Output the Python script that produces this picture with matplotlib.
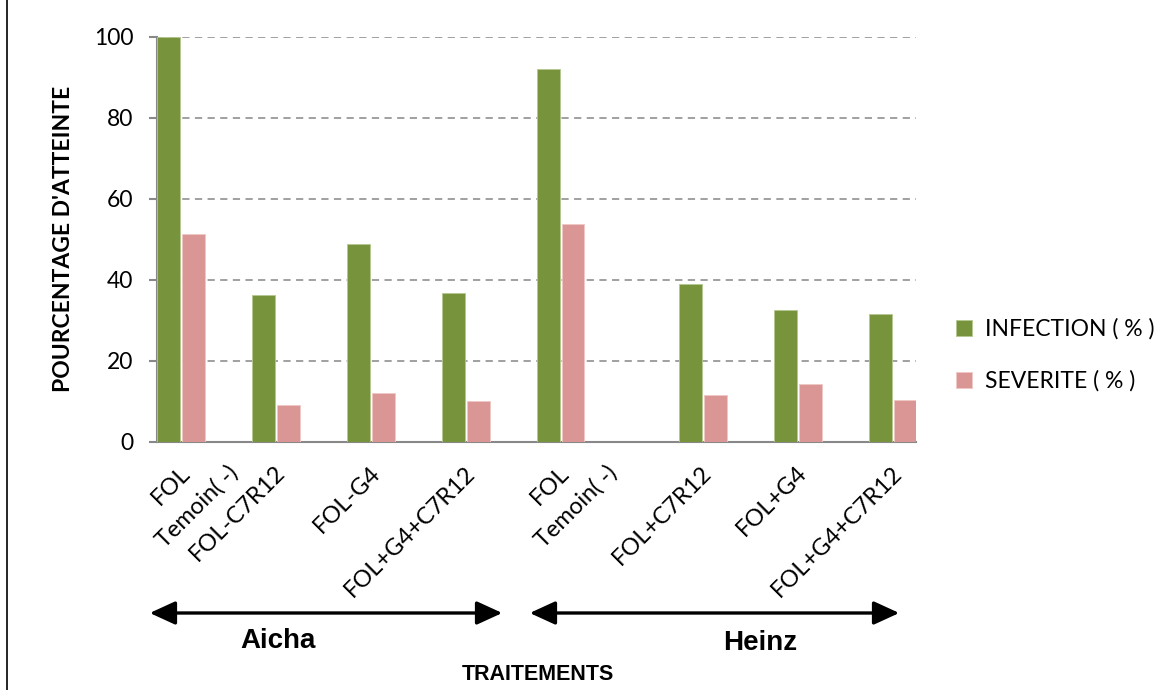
import matplotlib
matplotlib.use("Agg")
import matplotlib.pyplot as plt
import matplotlib.transforms as mtransforms
from matplotlib.lines import Line2D

# ---- data ----
categories = ["FOL", "Temoin( -)", "FOL-C7R12", "FOL-G4", "FOL+G4+C7R12",
              "FOL", "Temoin( -)", "FOL+C7R12", "FOL+G4", "FOL+G4+C7R12"]
infection = [100.0, 0.0, 36.3, 48.7, 36.6, 92.0, 0.0, 39.0, 32.4, 31.6]
severite = [51.2, 0.0, 9.1, 12.0, 10.1, 53.8, 0.0, 11.5, 14.3, 10.3]
series_names = ["INFECTION ( % )", "SEVERITE ( % )"]
groups = ["Aicha", "Heinz"]
yticks = [0, 20, 40, 60, 80, 100]

# ---- layout (category slot positions) ----
centers = [0.25, 0.75, 1.25, 2.25, 3.25, 4.25, 4.75, 5.75, 6.75, 7.75]

GREEN = "#77933C"
PINK = "#D99694"
FONT = ["Lato", "DejaVu Sans"]

W, H = 1176, 690
fig = plt.figure(figsize=(W / 100, H / 100), dpi=100)
ax = fig.add_axes([157 / W, 1 - 441.7 / H, (916 - 157) / W, (441.7 - 36.7) / H])

bw = 0.24
gx = [c - 0.125 for c in centers]
px = [c + 0.135 for c in centers]
ax.bar(gx, infection, width=bw, color=GREEN, edgecolor="#b5c98f", linewidth=0.6,
       label=series_names[0], zorder=3)
ax.bar(px, severite, width=bw, color=PINK, edgecolor="#f0c8c6", linewidth=0.6,
       label=series_names[1], zorder=3)

ax.set_xlim(0, 8)
ax.set_ylim(0, 100)
ax.set_yticks(yticks)
ax.set_yticklabels([str(v) for v in yticks], fontsize=16.5, family=FONT)
ax.yaxis.grid(True, linestyle=(0, (4, 3)), color="#999999", linewidth=1.3, zorder=0)
ax.set_axisbelow(True)
for s in ["top", "right"]:
    ax.spines[s].set_visible(False)
ax.spines["left"].set_color("#888888")
ax.spines["bottom"].set_color("#888888")
ax.spines["left"].set_linewidth(1.5)
ax.spines["bottom"].set_linewidth(1.5)
ax.tick_params(axis="y", length=6, width=1.5, color="#888888", pad=11)
ax.tick_params(axis="x", length=0, pad=20)

ax.set_xticks(centers)
ax.set_xticklabels(categories, rotation=45, ha="right", va="center",
                   rotation_mode="anchor", fontsize=17, family=FONT)
offset = mtransforms.ScaledTranslation(6 / 100, 0, fig.dpi_scale_trans)
for lbl in ax.get_xticklabels():
    lbl.set_transform(lbl.get_transform() + offset)

ax.set_ylabel("POURCENTAGE D'ATTEINTE", fontsize=16.5, fontweight="bold",
              family=FONT, labelpad=14)

# legend
leg = ax.legend(loc="center left", bbox_to_anchor=(1.026, 0.214), frameon=False,
                prop={"family": FONT, "size": 16.5}, handlelength=0.7,
                handleheight=0.7, handletextpad=0.55, labelspacing=1.35)

# group arrows
def fx(x):
    return x / W
def fy(y):
    return 1 - y / H

arrow_spans = [(147, 505), (527, 902)]
label_pos = [(278, 641), (760, 643)]
for (x0, x1), (lx, ly), g in zip(arrow_spans, label_pos, groups):
    fig.add_artist(matplotlib.patches.FancyArrowPatch(
        (fx(x0), fy(613)), (fx(x1), fy(613)), transform=fig.transFigure,
        arrowstyle="<|-|>,head_length=1.2,head_width=0.55", mutation_scale=13,
        color="black", linewidth=2.4))
    fig.text(fx(lx), fy(ly), g, ha="center", va="center", fontsize=20,
             fontweight="bold", family=["Liberation Sans", "DejaVu Sans"])

fig.text(fx(538), fy(675), "TRAITEMENTS", ha="center", va="center", fontsize=15.5,
         fontweight="bold", family=["Liberation Sans", "DejaVu Sans"])

fig.add_artist(Line2D([fx(7), fx(7)], [0, 1], transform=fig.transFigure,
                      color="black", linewidth=1.2))

fig.savefig("out.png", dpi=100)
